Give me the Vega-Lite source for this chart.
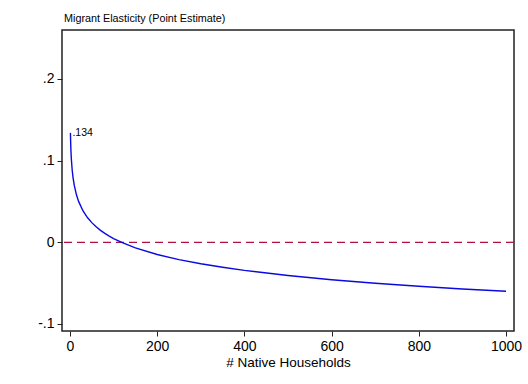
{
  "$schema": "https://vega.github.io/schema/vega-lite/v6.json",
  "width": 452,
  "height": 301,
  "autosize": {"type": "none"},
  "padding": {"left": 62, "top": 30, "right": 14, "bottom": 53},
  "background": "white",
  "config": {
    "font": "Liberation Sans",
    "view": {"stroke": "#222222", "strokeWidth": 1.5},
    "axis": {"grid": false, "domain": false, "tickColor": "#222222", "tickSize": 5, "labelColor": "#000000", "titleColor": "#000000", "labelFont": "Liberation Sans", "titleFont": "Liberation Sans", "titleFontWeight": "normal"}
  },
  "title": {"text": "Migrant Elasticity (Point Estimate)", "anchor": "start", "frame": "group", "fontSize": 10.8, "fontWeight": "normal", "font": "Liberation Sans", "color": "#000000", "offset": 6, "dx": 2},
  "datasets": {
    "curve": [
      {"households": 1, "elasticity": 0.134, "label": ".134"},
      {"households": 2, "elasticity": 0.1145},
      {"households": 3, "elasticity": 0.1031},
      {"households": 5, "elasticity": 0.0888},
      {"households": 7, "elasticity": 0.0793},
      {"households": 10, "elasticity": 0.0693},
      {"households": 15, "elasticity": 0.0579},
      {"households": 20, "elasticity": 0.0498},
      {"households": 30, "elasticity": 0.0384},
      {"households": 40, "elasticity": 0.0303},
      {"households": 50, "elasticity": 0.0241},
      {"households": 60, "elasticity": 0.0190},
      {"households": 70, "elasticity": 0.0146},
      {"households": 80, "elasticity": 0.0109},
      {"households": 90, "elasticity": 0.0076},
      {"households": 100, "elasticity": 0.0046},
      {"households": 120, "elasticity": -0.0005},
      {"households": 150, "elasticity": -0.0068},
      {"households": 200, "elasticity": -0.0149},
      {"households": 250, "elasticity": -0.0212},
      {"households": 300, "elasticity": -0.0263},
      {"households": 350, "elasticity": -0.0306},
      {"households": 400, "elasticity": -0.0344},
      {"households": 500, "elasticity": -0.0406},
      {"households": 600, "elasticity": -0.0458},
      {"households": 700, "elasticity": -0.0501},
      {"households": 800, "elasticity": -0.0538},
      {"households": 900, "elasticity": -0.0572},
      {"households": 1000, "elasticity": -0.0600}
    ],
    "zero": [{"y": 0}]
  },
  "layer": [
    {
      "data": {"name": "zero"},
      "mark": {"type": "rule", "color": "#b01040", "strokeWidth": 1.3, "strokeDash": [8, 5]},
      "encoding": {
        "y": {"field": "y", "type": "quantitative", "scale": {"domain": [-0.1086, 0.26], "nice": false, "zero": false}}
      }
    },
    {
      "data": {"name": "curve"},
      "mark": {"type": "line", "color": "#0a0ae0", "strokeWidth": 1.4},
      "encoding": {
        "x": {"field": "households", "type": "quantitative", "scale": {"domain": [-18.3, 1018.3], "nice": false, "zero": false},
          "axis": {"values": [0, 200, 400, 600, 800, 1000], "format": "d", "title": "# Native Households", "labelFontSize": 14, "titleFontSize": 13.5, "labelPadding": 3, "titlePadding": 2}},
        "y": {"field": "elasticity", "type": "quantitative", "scale": {"domain": [-0.1086, 0.26], "nice": false, "zero": false},
          "axis": {"values": [-0.1, 0, 0.1, 0.2], "title": null, "labelFontSize": 14, "labelPadding": 3,
            "labelExpr": "datum.value == 0 ? '0' : (datum.value < 0 ? '-' : '') + replace(format(abs(datum.value), '.1f'), '0.', '.')"}}
      }
    },
    {
      "data": {"name": "curve"},
      "transform": [{"filter": "datum.label"}],
      "mark": {"type": "text", "align": "left", "baseline": "middle", "dx": 2, "fontSize": 10.5, "color": "#000000"},
      "encoding": {
        "x": {"field": "households", "type": "quantitative"},
        "y": {"field": "elasticity", "type": "quantitative"},
        "text": {"field": "label"}
      }
    }
  ]
}
